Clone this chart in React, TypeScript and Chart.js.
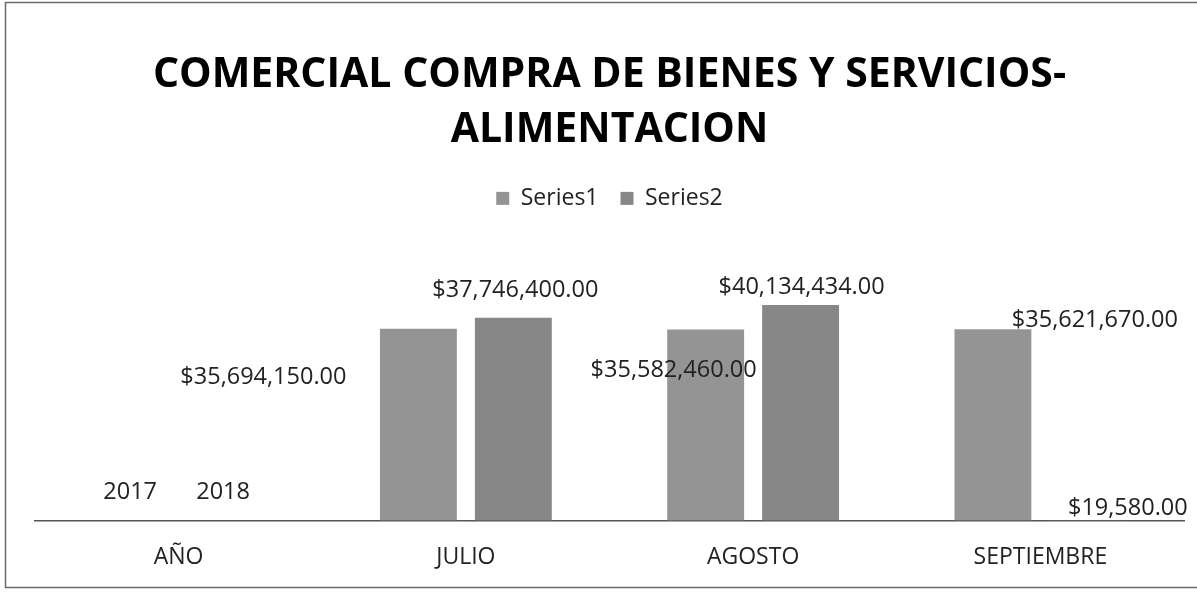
import React, { useEffect, useRef } from 'react';
import { Chart, registerables } from 'chart.js';

Chart.register(...registerables);

const categories = ['AÑO', 'JULIO', 'AGOSTO', 'SEPTIEMBRE'];
const series1 = [2017, 35694150, 35582460, 35621670];
const series2 = [2018, 37746400, 40134434, 19580];
const seriesNames = ['Series1', 'Series2'];
const titleLines = ['COMERCIAL COMPRA DE BIENES Y SERVICIOS-', 'ALIMENTACION'];

// where each data label sits relative to the top-centre of its bar (as placed in the original)
const labelOffsets1 = [[-1, -28], [-155, 48], [-32, 41], [102, -9]];
const labelOffsets2 = [[-3, -28], [2, -28], [1, -18], [40, -12]];

const FONT = '"Open Sans", "Liberation Sans", sans-serif';

const fmt = (v: number, i: number) =>
  i === 0
    ? String(v)
    : '$' + v.toLocaleString('en-US', { minimumFractionDigits: 2, maximumFractionDigits: 2 });

const framePlugin = {
  id: 'frame',
  beforeDraw(chart: any) {
    const { ctx, width } = chart;
    ctx.save();
    ctx.fillStyle = '#ffffff';
    ctx.fillRect(0, 0, chart.width, chart.height);
    ctx.strokeStyle = '#6a6a6a';
    ctx.lineWidth = 1.5;
    ctx.beginPath();
    ctx.moveTo(width, 2.5);
    ctx.lineTo(5.5, 2.5);
    ctx.lineTo(5.5, 587.5);
    ctx.lineTo(width, 587.5);
    ctx.stroke();
    ctx.restore();
  },
};

const labelPlugin = {
  id: 'barLabels',
  afterDatasetsDraw(chart: any) {
    const ctx = chart.ctx;
    ctx.save();
    ctx.font = `23.5px ${FONT}`;
    ctx.fillStyle = '#222222';
    ctx.textAlign = 'center';
    ctx.textBaseline = 'middle';
    chart.data.datasets.forEach((ds: any, di: number) => {
      const meta = chart.getDatasetMeta(di);
      const offs = di === 0 ? labelOffsets1 : labelOffsets2;
      meta.data.forEach((el: any, j: number) => {
        ctx.fillText(fmt(ds.data[j], j), el.x + offs[j][0], el.y + offs[j][1]);
      });
    });
    ctx.restore();
  },
};

export default function App() {
  const ref = useRef<HTMLCanvasElement | null>(null);

  useEffect(() => {
    if (!ref.current) return;
    const chart = new Chart(ref.current, {
      type: 'bar',
      data: {
        labels: categories,
        datasets: [
          {
            label: seriesNames[0],
            data: series1,
            backgroundColor: '#949494',
            borderWidth: 0,
            categoryPercentage: 0.661,
            barPercentage: 0.81,
          },
          {
            label: seriesNames[1],
            data: series2,
            backgroundColor: '#878787',
            borderWidth: 0,
            categoryPercentage: 0.661,
            barPercentage: 0.81,
          },
        ],
      },
      options: {
        animation: false,
        responsive: false,
        events: [],
        layout: { padding: { left: 35, right: 13, top: 0, bottom: 0 } },
        plugins: {
          title: {
            display: true,
            text: titleLines,
            color: '#000000',
            font: { family: FONT, size: 41, weight: 'bold', lineHeight: 1.34 },
            padding: { top: 48, bottom: 7 },
          },
          legend: {
            display: true,
            position: 'top',
            labels: {
              boxWidth: 13,
              boxHeight: 13,
              padding: 22,
              color: '#222222',
              font: { family: FONT, size: 23 },
            },
          },
          tooltip: { enabled: false },
        },
        scales: {
          x: {
            type: 'category',
            grid: { display: true, color: 'rgba(0,0,0,0)', drawTicks: false, drawOnChartArea: false },
            border: { display: true, color: '#555555', width: 1.5 },
            ticks: { color: '#222222', font: { family: FONT, size: 23 }, padding: 23 },
          },
          y: {
            display: false,
            min: 0,
            max: 56000000,
          },
        },
      },
      plugins: [framePlugin, labelPlugin],
    });
    return () => chart.destroy();
  }, []);

  return (
    <div style={{ position: 'fixed', left: 0, top: 0, width: 1197, height: 594, background: '#fff' }}>
      <canvas ref={ref} width={1197} height={594} style={{ display: 'block', width: 1197, height: 594 }} />
    </div>
  );
}
